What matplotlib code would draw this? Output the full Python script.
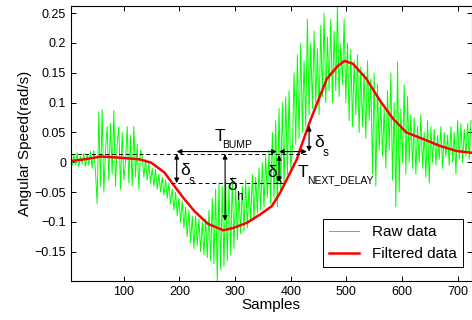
import numpy as np
import matplotlib
matplotlib.use('Agg')
import matplotlib.pyplot as plt

plt.rcParams['font.family'] = ['Liberation Sans', 'DejaVu Sans']

# Raw angular speed, one value every 3 samples
raw_step = 3
raw_y = [
    # x 1..49
    0.004, 0.014, -0.006, 0.012, -0.004, 0.016, -0.008, 0.010, -0.002, 0.015,
    -0.007, 0.013, -0.005, 0.018, -0.010, 0.020, -0.015,
    # x 52..130
    -0.070, 0.085, -0.040, 0.088, -0.050, 0.020, 0.060, -0.030, 0.065, -0.020,
    0.087, -0.040, 0.030, 0.060, -0.045, 0.050, -0.030, 0.000, 0.060, -0.035,
    0.045, -0.040, 0.060, -0.025, 0.030, -0.045, 0.020,
    # x 133..181
    0.010, -0.025, 0.005, -0.030, 0.000, -0.035, -0.010, -0.040, -0.012, -0.045,
    -0.020, -0.050, -0.025, -0.055, -0.030, -0.060, -0.035,
    # x 184..250
    -0.070, -0.045, -0.080, -0.050, -0.090, -0.060, -0.100, -0.065, -0.110, -0.075,
    -0.125, -0.080, -0.135, -0.090, -0.145, -0.090, -0.140, -0.095, -0.150, -0.100,
    -0.155, -0.095, -0.160,
    # x 253..301
    -0.080, -0.165, -0.060, -0.170, -0.045, -0.199, -0.035, -0.180, -0.040, -0.175,
    -0.030, -0.165, -0.040, -0.155, -0.025, -0.145, -0.040,
    # x 304..361
    -0.130, -0.050, -0.120, -0.040, -0.115, -0.030, -0.110, -0.040, -0.100, -0.020,
    -0.095, -0.025, -0.085, -0.010, -0.080, 0.000, -0.075, 0.010, -0.060, 0.020,
    # x 364..400
    -0.070, 0.050, -0.060, 0.070, -0.075, 0.090, -0.050, 0.100, -0.040, 0.110,
    -0.020, 0.120, -0.010,
    # x 403..502
    0.020, 0.150, 0.030, 0.180, 0.040, 0.200, 0.050, 0.170, 0.060, 0.240,
    0.080, 0.200, 0.090, 0.220, 0.100, 0.190, 0.080, 0.230, 0.110, 0.250,
    0.100, 0.210, 0.120, 0.240, 0.100, 0.220, 0.120, 0.262, 0.110, 0.200,
    0.130, 0.240, 0.100, 0.200,
    # x 505..559
    0.070, 0.190, 0.060, 0.170, 0.080, 0.180, 0.050, 0.160, 0.060, 0.150,
    0.040, 0.170, 0.070, 0.140, -0.020, 0.150, -0.040, 0.130, 0.020,
    # x 562..619
    0.100, 0.010, 0.090, -0.010, 0.120, 0.020, 0.150, -0.030, 0.100, -0.075,
    0.168, -0.050, 0.090, 0.000, 0.130, -0.020, 0.110, 0.000, 0.080, -0.010,
    # x 622..724
    0.075, -0.020, 0.060, 0.000, 0.080, -0.010, 0.050, -0.025, 0.070, -0.035,
    0.060, 0.000, 0.055, -0.005, 0.045, 0.005, 0.060, -0.010, 0.050, 0.010,
    0.045, -0.005, 0.060, 0.000, 0.050, -0.020, 0.070, 0.005, 0.065, 0.000,
    0.055, 0.010, 0.065, 0.005, 0.070,
]
raw_x = 1 + raw_step * np.arange(len(raw_y))

# Filtered signal
filt_x = [5, 29, 59, 89, 128, 149, 173, 191, 209, 227, 251, 261, 279, 297, 321,
          345, 366, 381, 399, 411, 417, 434, 447, 465, 485, 497, 512, 536, 560,
          584, 608, 638, 668, 698, 725]
filt_y = [0.002, 0.005, 0.0096, 0.008, 0.005, -0.0006, -0.017, -0.040, -0.062,
          -0.082, -0.103, -0.107, -0.114, -0.110, -0.1015, -0.0875, -0.0735,
          -0.051, -0.0174, 0.005, 0.022, 0.067, 0.098, 0.140, 0.162, 0.170,
          0.165, 0.140, 0.104, 0.073, 0.050, 0.039, 0.0275, 0.019, 0.016]

# annotation levels
y_top, y_low = 0.014, -0.035

fig = plt.figure(figsize=(4.72, 3.2), dpi=100)
ax = fig.add_axes([71 / 472, 1 - 281 / 320, 400.5 / 472, 275 / 320])

ax.plot(raw_x, raw_y, color='#00ff00', lw=0.7, label='Raw data')
ax.plot(filt_x, filt_y, color='#ff0000', lw=1.8, label='Filtered data')

# dashed reference lines
ax.plot([5, 433], [y_top, y_top], color='k', ls=(0, (4, 3)), lw=0.7)
ax.plot([184, 386], [y_low, y_low], color='k', ls=(0, (4, 3)), lw=0.7)

arw = dict(arrowstyle='<|-|>', color='k', lw=0.8, mutation_scale=7,
           shrinkA=0, shrinkB=0)


def darrow(x0, y0, x1, y1):
    ax.annotate('', xy=(x1, y1), xytext=(x0, y0), arrowprops=arw)


darrow(195, 0.018, 375, 0.018)    # T_BUMP
darrow(379, 0.018, 429, 0.018)    # T_NEXT_DELAY
darrow(195, y_top, 195, y_low)    # delta_s left
darrow(282, y_top, 282, -0.098)   # delta_h
darrow(379, 0.012, 379, -0.033)   # delta_s middle
darrow(433, 0.018, 433, 0.061)    # delta_s right


def sublabel(x, y, main, sub, xs, ys, fs=12.5, fss=7.5):
    ax.text(x, y, main, fontsize=fs, ha='left', va='baseline')
    ax.text(xs, ys, sub, fontsize=fss, ha='left', va='baseline')


sublabel(263, 0.0357, 'T', 'BUMP', 277, 0.024)
sublabel(412, -0.0247, 'T', 'NEXT_DELAY', 429, -0.0347)
sublabel(202, -0.0215, 'δ', 's', 217, -0.036, fss=8.5)
sublabel(285, -0.0465, 'δ', 'h', 301, -0.064, fss=8.5)
sublabel(357, -0.0247, 'δ', 's', 372, -0.036, fss=8.5)
sublabel(443, 0.0257, 'δ', 's', 458, 0.011, fss=8.5)

ax.set_xlim(5, 725)
ax.set_ylim(-0.199, 0.262)
ax.set_xticks([100, 200, 300, 400, 500, 600, 700])
ax.set_yticks([-0.15, -0.1, -0.05, 0, 0.05, 0.1, 0.15, 0.2, 0.25])
ax.set_yticklabels(['\u22120.15', '\u22120.1', '\u22120.05', '0', '0.05',
                    '0.1', '0.15', '0.2', '0.25'])
ax.tick_params(direction='in', top=True, right=True, length=3.5,
               labelsize=9, width=0.7)
for s in ax.spines.values():
    s.set_linewidth(0.8)

ax.set_xlabel('Samples', fontsize=11, labelpad=0)
ax.set_ylabel('Angular Speed(rad/s)', fontsize=11, labelpad=2)

leg = ax.legend(loc='lower right', bbox_to_anchor=(0.978, 0.051),
                borderaxespad=0, fancybox=False, fontsize=11,
                edgecolor='k', framealpha=1)
leg.get_frame().set_linewidth(0.7)

fig.savefig('out.png', dpi=100)
